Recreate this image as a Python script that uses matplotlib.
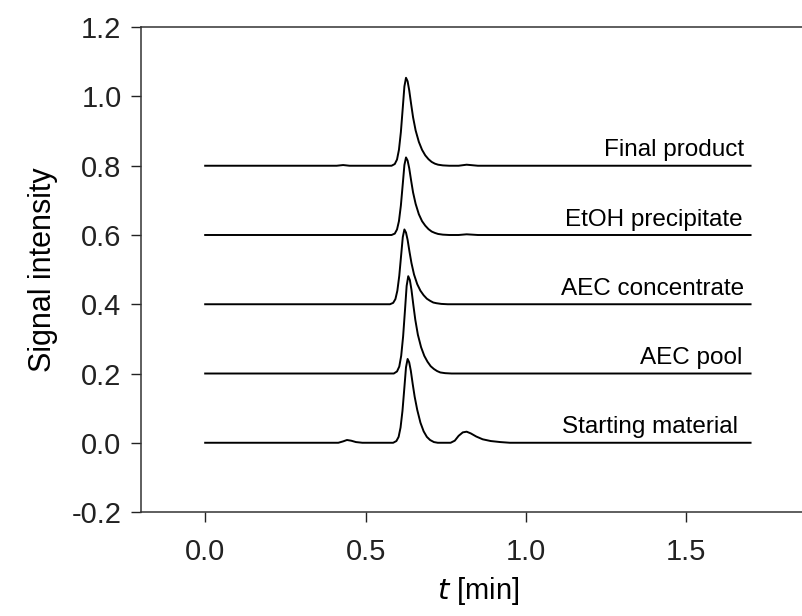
import matplotlib
matplotlib.use("Agg")
import matplotlib.pyplot as plt

plt.rcParams["font.family"] = ["Liberation Sans", "DejaVu Sans"]

# ---- traces (t [min], signal above own baseline) ----
labels = ["Starting material", "AEC pool", "AEC concentrate", "EtOH precipitate", "Final product"]
offsets = [0.0, 0.2, 0.4, 0.6, 0.8]
label_right = [1.66, 1.675, 1.679, 1.675, 1.679]

t_start = [0.0, 0.415, 0.43, 0.442, 0.455, 0.47, 0.49, 0.586, 0.596, 0.603, 0.609, 0.615,
           0.621, 0.626, 0.631, 0.636, 0.641, 0.647, 0.653, 0.661, 0.671, 0.681, 0.691,
           0.701, 0.713, 0.725, 0.765, 0.778, 0.79, 0.803, 0.815, 0.828, 0.845, 0.865,
           0.89, 0.92, 0.95, 1.7]
y_start = [0.0, 0.0, 0.004, 0.008, 0.006, 0.002, 0.0, 0.0, 0.005, 0.017, 0.044, 0.092,
           0.160, 0.218, 0.242, 0.232, 0.208, 0.169, 0.133, 0.095, 0.058, 0.033, 0.017,
           0.008, 0.002, 0.0, 0.0, 0.006, 0.020, 0.030, 0.032, 0.027, 0.018, 0.010,
           0.005, 0.002, 0.0, 0.0]

t_pool = [0.0, 0.588, 0.598, 0.605, 0.611, 0.617, 0.623, 0.628, 0.633, 0.638, 0.643,
          0.649, 0.655, 0.663, 0.673, 0.683, 0.693, 0.703, 0.713, 0.723, 0.733, 0.748,
          0.768, 1.7]
y_pool = [0.0, 0.0, 0.006, 0.020, 0.051, 0.107, 0.185, 0.253, 0.281, 0.270, 0.242,
          0.197, 0.155, 0.112, 0.076, 0.051, 0.034, 0.021, 0.013, 0.007, 0.003, 0.001,
          0.0, 0.0]

t_conc = [0.0, 0.576, 0.586, 0.593, 0.599, 0.605, 0.611, 0.616, 0.621, 0.626, 0.631,
          0.637, 0.643, 0.651, 0.661, 0.671, 0.681, 0.691, 0.701, 0.711, 0.721, 0.736,
          0.756, 1.7]
y_conc = [0.0, 0.0, 0.004, 0.015, 0.039, 0.082, 0.143, 0.194, 0.216, 0.207, 0.186,
          0.151, 0.119, 0.086, 0.058, 0.039, 0.026, 0.016, 0.010, 0.005, 0.003, 0.001,
          0.0, 0.0]

t_etoh = [0.0, 0.581, 0.591, 0.598, 0.604, 0.610, 0.616, 0.621, 0.626, 0.631, 0.636,
          0.642, 0.648, 0.656, 0.666, 0.676, 0.686, 0.696, 0.706, 0.716, 0.726, 0.741,
          0.761, 0.79, 0.815, 0.85, 1.7]
y_etoh = [0.0, 0.0, 0.004, 0.016, 0.040, 0.085, 0.148, 0.202, 0.224, 0.215, 0.193,
          0.157, 0.123, 0.090, 0.060, 0.040, 0.027, 0.017, 0.010, 0.006, 0.003, 0.001,
          0.0, 0.0, 0.002, 0.0, 0.0]

t_final = [0.0, 0.41, 0.43, 0.45, 0.581, 0.591, 0.598, 0.604, 0.610, 0.616, 0.621,
           0.626, 0.631, 0.636, 0.642, 0.648, 0.656, 0.666, 0.676, 0.686, 0.696, 0.706,
           0.716, 0.726, 0.741, 0.761, 0.79, 0.815, 0.85, 1.7]
y_final = [0.0, 0.0, 0.002, 0.0, 0.0, 0.005, 0.018, 0.046, 0.097, 0.168, 0.229,
           0.254, 0.244, 0.218, 0.178, 0.140, 0.102, 0.069, 0.046, 0.030, 0.019, 0.011,
           0.006, 0.003, 0.001, 0.0, 0.0, 0.003, 0.0, 0.0]

traces = [(t_start, y_start), (t_pool, y_pool), (t_conc, y_conc),
          (t_etoh, y_etoh), (t_final, y_final)]

fig = plt.figure(figsize=(8.03, 6.16), dpi=100)
# axes run past the right edge of the figure, as in the original crop
ax = fig.add_axes([0.1756, 0.1688, 0.839, 0.787])

for (t, y), off, lab, xr in zip(traces, offsets, labels, label_right):
    ax.plot(t, [v + off for v in y], color="black", lw=1.4)
    ax.text(xr, off + 0.027, lab, ha="right", va="baseline", fontsize=17.5)

ax.set_xlim(-0.2, 1.9)
ax.set_ylim(-0.2, 1.2)
ax.set_xticks([0.0, 0.5, 1.0, 1.5])
ax.set_yticks([-0.2, 0.0, 0.2, 0.4, 0.6, 0.8, 1.0, 1.2])
ax.set_xticklabels(["0.0", "0.5", "1.0", "1.5"])
ax.set_yticklabels(["-0.2", "0.0", "0.2", "0.4", "0.6", "0.8", "1.0", "1.2"])
ax.tick_params(direction="out", length=7, width=1.0, labelsize=21, colors="#222222")
ax.tick_params(axis="x", pad=12)
ax.tick_params(axis="y", pad=7)
for s in ax.spines.values():
    s.set_linewidth(1.1)
    s.set_color("#333333")
ax.spines["right"].set_visible(False)

ax.set_xlabel(r"$\it{t}$ [min]", fontsize=21, labelpad=6)
ax.set_ylabel("Signal intensity", fontsize=22, labelpad=10)

fig.savefig("out.png", dpi=100)
